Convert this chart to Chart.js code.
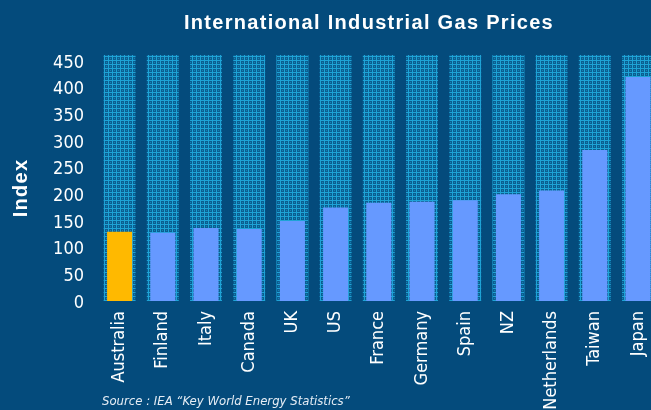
<!DOCTYPE html>
<html>
<head>
<meta charset="utf-8">
<script src="https://cdn.jsdelivr.net/npm/chart.js@4/dist/chart.umd.min.js"></script>
<style>
html,body{margin:0;padding:0;background:#044b7c;overflow:hidden;width:651px;height:410px;}
#wrap{position:absolute;left:0;top:0;width:670px;height:410px;}
</style>
</head>
<body>
<div id="wrap"><canvas id="c" width="670" height="410"></canvas></div>
<script>
const categories = ["Australia","Finland","Italy","Canada","UK","US","France","Germany","Spain","NZ","Netherlands","Taiwan","Japan"];
const prices = [130, 128, 137, 135, 150, 175, 184, 186, 189, 200, 207, 283, 420];
const backdrop = [461, 461, 461, 461, 461, 461, 461, 461, 461, 461, 461, 461, 461];
const yTicks = [0, 50, 100, 150, 200, 250, 300, 350, 400, 450];
const titleText = "International Industrial Gas Prices";
const yTitle = "Index";
const sourceText = "Source : IEA \u201CKey World Energy Statistics\u201D";

// pattern fill for background columns
const pc = document.createElement('canvas');
pc.width = 4; pc.height = 4;
const px = pc.getContext('2d');
px.fillStyle = '#0b5e90'; px.fillRect(0,0,4,4);
px.fillStyle = '#1ea3d6'; px.fillRect(0,0,4,1); px.fillRect(0,0,1,4);
px.fillStyle = '#1483b6'; px.fillRect(2,2,1,1);
const ctx0 = document.getElementById('c').getContext('2d');
const pattern = ctx0.createPattern(pc, 'repeat');

const barColors = categories.map((c,i) => i === 0 ? '#ffb900' : '#6699ff');
const tickFont = "'DejaVu Sans Condensed','DejaVu Sans',sans-serif";

const textPlugin = {
  id: 'texts',
  afterDraw(chart) {
    const c = chart.ctx;
    c.save();
    c.fillStyle = '#ffffff';
    c.textAlign = 'center';
    c.textBaseline = 'middle';
    c.font = "bold 20px 'Liberation Sans', Arial, sans-serif";
    try { c.letterSpacing = '1.3px'; } catch(e) {}
    c.fillText(titleText, 369, 23);
    c.save();
    c.translate(21, 188);
    c.rotate(-Math.PI/2);
    c.fillText(yTitle, 0, 0);
    c.restore();
    try { c.letterSpacing = '0px'; } catch(e) {}
    c.textAlign = 'left';
    c.fillStyle = '#e6edf5';
    c.font = "italic 13px 'DejaVu Sans Condensed','DejaVu Sans',sans-serif";
    c.fillText(sourceText, 102, 402);
    c.restore();
  }
};

new Chart(ctx0, {
  type: 'bar',
  data: {
    labels: categories,
    datasets: [
      { data: prices, backgroundColor: barColors, borderWidth: 0, barPercentage: 0.58, categoryPercentage: 1, grouped: false, order: 0 },
      { data: backdrop, backgroundColor: pattern, borderWidth: 0, barPercentage: 0.74, categoryPercentage: 1, grouped: false, order: 1 }
    ]
  },
  options: {
    responsive: false,
    animation: false,
    layout: { padding: { top: 55, left: 0, right: 10, bottom: 0 } },
    plugins: { legend: { display: false }, tooltip: { enabled: false }, title: { display: false } },
    scales: {
      x: {
        grid: { display: false, drawTicks: false },
        border: { display: false },
        ticks: { color: '#ffffff', font: { family: tickFont, size: 18 }, minRotation: 90, maxRotation: 90, padding: 10, autoSkip: false },
        afterFit(s) { s.height = 109; }
      },
      y: {
        min: 0, max: 461,
        grid: { display: false, drawTicks: false },
        border: { display: false },
        afterBuildTicks(s) { s.ticks = yTicks.map(v => ({ value: v })); },
        ticks: { color: '#ffffff', font: { family: tickFont, size: 18 }, padding: 14, labelOffset: 2, includeBounds: false },
        afterFit(s) { s.width = 98; }
      }
    }
  },
  plugins: [textPlugin]
});
</script>
</body>
</html>
